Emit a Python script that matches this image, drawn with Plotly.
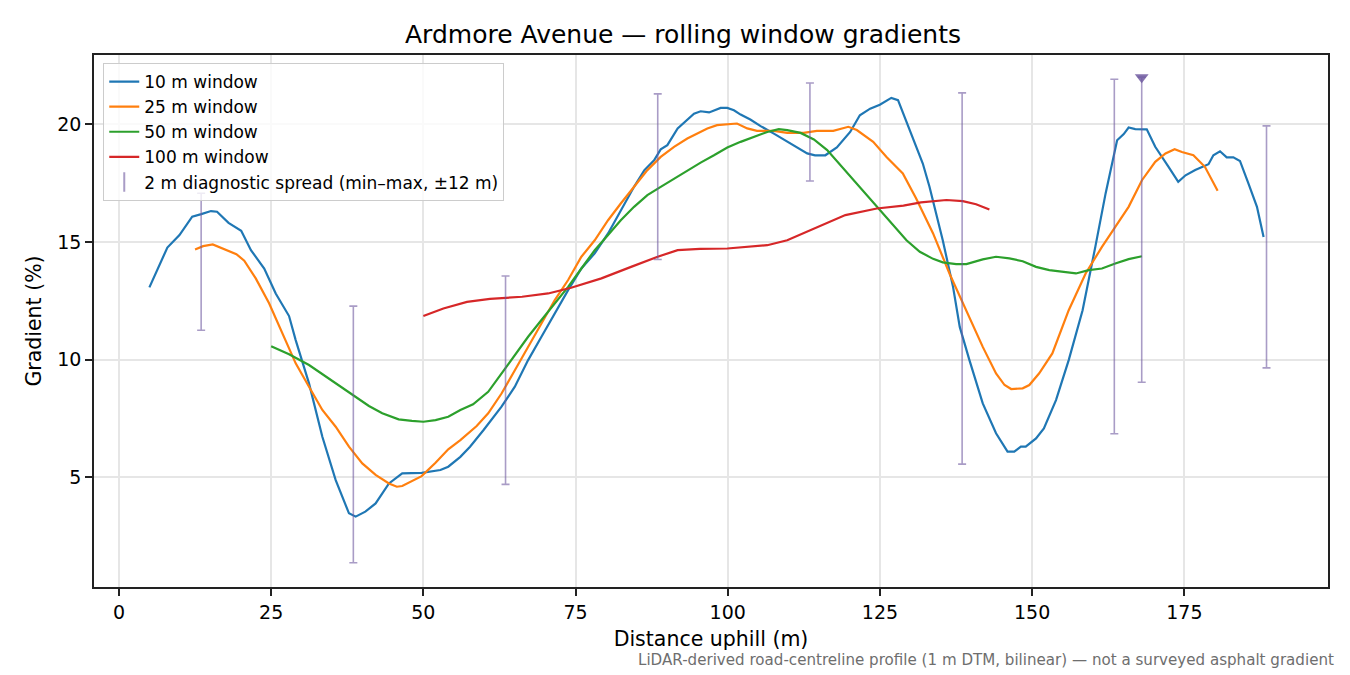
"""Ardmore Avenue: rolling window gradients along the road centreline.

Four moving-window gradient profiles plus the 2 m diagnostic min-max spread.
"""
import plotly.graph_objects as go

# 10 m window
dist_10 = [5.0, 7.95, 9.94, 12.03, 13.52, 15.11, 16.11, 18.0, 20.08, 21.68, 23.86, 25.75,
           27.94, 29.03, 31.22, 33.41, 35.6, 37.78, 38.88, 40.47, 42.16, 44.35, 46.53,
           49.72, 52.8, 54.09, 56.08, 57.67, 59.86, 62.84, 65.03, 67.21, 69.4, 71.59,
           73.78, 75.96, 78.15, 80.34, 82.43, 84.61, 86.31, 87.9, 88.99, 90.08, 91.77,
           93.36, 94.46, 95.55, 96.94, 98.83, 99.93, 101.02, 102.11, 103.71, 105.4,
           107.58, 109.77, 111.36, 113.05, 114.34, 116.03, 117.92, 120.11, 121.7,
           123.39, 124.98, 126.87, 127.97, 129.86, 132.04, 133.14, 135.32, 137.01,
           138.11, 139.7, 141.89, 144.07, 145.96, 147.06, 148.15, 148.95, 150.64,
           151.93, 153.92, 156.01, 158.29, 160.38, 162.07, 163.96, 165.05, 165.85,
           166.94, 168.83, 170.22, 172.41, 174.0, 175.2, 176.79, 178.97, 179.77,
           180.86, 181.96, 183.05, 184.14, 185.54, 186.93, 188.02]
grad_10 = [13.07, 14.76, 15.29, 16.07, 16.18, 16.31, 16.28, 15.81, 15.47, 14.65, 13.87, 12.81,
           11.85, 10.83, 8.99, 6.72, 4.88, 3.47, 3.33, 3.54, 3.89, 4.74, 5.17,
           5.19, 5.31, 5.45, 5.87, 6.3, 7.0, 8.0, 8.85, 9.98, 10.97, 11.96,
           12.95, 13.87, 14.51, 15.36, 16.35, 17.34, 18.05, 18.47, 18.93, 19.11, 19.82,
           20.17, 20.45, 20.55, 20.5, 20.69, 20.69, 20.59, 20.41, 20.2, 19.92,
           19.6, 19.25, 19.01, 18.76, 18.68, 18.68, 19.01, 19.67, 20.38,
           20.66, 20.83, 21.12, 21.02, 19.75, 18.33, 17.34, 15.07, 13.09,
           11.39, 9.98, 8.14, 6.87, 6.09, 6.09, 6.3, 6.3, 6.65,
           7.08, 8.28, 9.98, 12.1, 14.79, 17.06, 19.32, 19.58, 19.86,
           19.79, 19.78, 19.04, 18.19, 17.55, 17.83, 18.05, 18.3, 18.68,
           18.85, 18.59, 18.59, 18.44, 17.48, 16.49, 15.21]

# 25 m window
dist_25 = [12.5, 13.82, 15.41, 17.6, 19.29, 20.58, 22.47, 24.66, 26.85, 29.03, 31.22, 33.41,
           35.6, 37.78, 39.97, 42.16, 44.35, 45.64, 46.53, 48.12, 49.72, 52.0, 54.09,
           56.08, 58.76, 60.65, 62.84, 65.03, 67.21, 69.4, 71.59, 73.78, 75.96, 78.15,
           80.34, 82.43, 84.61, 86.8, 88.99, 91.18, 93.36, 95.55, 96.65, 98.24, 99.93,
           101.52, 103.21, 104.8, 107.58, 109.77, 112.46, 114.64, 117.33, 119.81, 121.2,
           123.89, 126.08, 128.76, 130.95, 133.73, 136.42, 139.2, 141.89, 144.07, 145.47,
           146.56, 148.45, 149.54, 151.13, 153.32, 156.01, 158.79, 161.47, 163.66,
           165.85, 168.04, 170.22, 171.91, 173.41, 174.6, 176.49, 178.38, 180.47]
grad_25 = [14.68, 14.82, 14.89, 14.65, 14.48, 14.2, 13.45, 12.39, 11.11, 9.84, 8.85, 7.86,
           7.15, 6.3, 5.59, 5.1, 4.74, 4.6, 4.63, 4.84, 5.05, 5.62, 6.19,
           6.58, 7.18, 7.72, 8.56, 9.55, 10.54, 11.54, 12.53, 13.38, 14.37, 15.07,
           15.92, 16.63, 17.34, 18.05, 18.61, 19.04, 19.39, 19.67, 19.82, 19.96, 20.0,
           20.03, 19.82, 19.72, 19.72, 19.63, 19.63, 19.72, 19.72, 19.89, 19.75,
           19.25, 18.61, 17.91, 16.84, 15.36, 13.66, 12.1, 10.54, 9.41, 8.92,
           8.75, 8.78, 8.92, 9.41, 10.26, 12.1, 13.66, 14.79, 15.64,
           16.49, 17.62, 18.4, 18.76, 18.94, 18.82, 18.68, 18.19, 17.17]

# 50 m window
dist_50 = [25.0, 27.94, 31.22, 34.5, 37.78, 41.06, 43.25, 45.94, 48.12, 50.01, 52.0, 54.09,
           56.08, 58.17, 60.65, 62.84, 65.03, 67.21, 69.4, 71.59, 73.78, 75.96, 78.15,
           80.34, 82.43, 84.61, 86.8, 88.99, 91.18, 93.36, 95.55, 97.74, 99.93, 102.11,
           104.3, 106.49, 108.38, 109.77, 111.96, 114.15, 116.33, 118.52, 120.71, 122.8,
           124.98, 127.17, 129.36, 131.55, 133.73, 135.32, 137.51, 139.2, 141.89, 144.07,
           146.26, 148.45, 150.64, 152.82, 155.01, 157.2, 159.29, 161.47, 163.66,
           165.85, 168.04]
grad_50 = [10.57, 10.23, 9.77, 9.2, 8.63, 8.03, 7.72, 7.46, 7.4, 7.36, 7.43, 7.57,
           7.86, 8.1, 8.63, 9.41, 10.19, 10.97, 11.68, 12.39, 13.09, 13.87, 14.65,
           15.29, 15.92, 16.49, 16.99, 17.34, 17.69, 18.05, 18.37, 18.68, 19.01, 19.25,
           19.46, 19.67, 19.79, 19.75, 19.63, 19.35, 18.9, 18.26, 17.62, 16.99,
           16.35, 15.71, 15.07, 14.58, 14.28, 14.13, 14.06, 14.06, 14.26, 14.37,
           14.3, 14.18, 13.94, 13.8, 13.73, 13.66, 13.8, 13.87, 14.08,
           14.27, 14.39]

# 100 m window
dist_100 = [50.0, 53.29, 57.17, 60.95, 66.22, 70.5, 74.27, 79.25, 84.12, 88.49, 91.77, 95.45,
            99.93, 106.49, 109.77, 113.05, 116.33, 119.32, 124.49, 128.86, 131.74, 135.92,
            138.61, 140.79, 142.98]
grad_100 = [11.85, 12.17, 12.45, 12.58, 12.67, 12.81, 13.05, 13.45, 13.94, 14.37, 14.65, 14.7,
            14.72, 14.86, 15.07, 15.43, 15.78, 16.14, 16.42, 16.54, 16.68, 16.78,
            16.73, 16.6, 16.38]

# 2 m diagnostic spread (min-max within +-12 m)
spread_x = [13.5, 38.5, 63.5, 88.5, 113.5, 138.5, 163.5, 168.0, 188.5]
spread_lo = [11.25, 1.37, 4.7, 14.25, 17.59, 5.56, 6.85, 9.04, 9.65]
spread_hi = [17.07, 12.27, 13.55, 21.29, 21.75, 21.33, 21.91, 22.0, 19.93]

# spread clipped at the top of the axis
clip_x = [168.0]
clip_y = [22.0]

series = [
    ("10 m window", dist_10, grad_10, "#1f77b4"),
    ("25 m window", dist_25, grad_25, "#ff7f0e"),
    ("50 m window", dist_50, grad_50, "#2ca02c"),
    ("100 m window", dist_100, grad_100, "#d62728"),
]

FONT = "DejaVu Sans"
AXIS = "#222222"
GRID = "#e6e6e6"
SPREAD = "rgba(112,90,160,0.6)"
PAGE_PAD = 8  # browser body margin around the plot div

fig = go.Figure()
for name, xs, ys, col in series:
    fig.add_trace(go.Scatter(x=xs, y=ys, mode="lines", name=name,
                             line=dict(color=col, width=2.2)))

fig.add_trace(go.Scatter(
    x=spread_x, y=spread_hi, mode="markers", showlegend=False,
    marker=dict(size=1, opacity=0),
    error_y=dict(type="data", symmetric=False,
                 array=[0] * len(spread_x),
                 arrayminus=[h - l for h, l in zip(spread_hi, spread_lo)],
                 color=SPREAD, thickness=1.6, width=4),
))
# legend entry only
fig.add_trace(go.Scatter(
    x=[None], y=[None], mode="markers",
    name="2 m diagnostic spread (min–max, ±12 m)",
    marker=dict(symbol="line-ns", size=14, color=SPREAD,
                line=dict(color=SPREAD, width=2)),
))
fig.add_trace(go.Scatter(
    x=clip_x, y=clip_y, mode="markers", showlegend=False,
    marker=dict(symbol="triangle-down", size=12, color="rgba(112,90,160,0.85)"),
))

axis_common = dict(
    showline=True, linecolor=AXIS, linewidth=1.6, mirror=True,
    ticks="outside", ticklen=7, tickwidth=1.6, tickcolor=AXIS,
    showgrid=True, gridcolor=GRID, gridwidth=1.5, zeroline=False,
    tickfont=dict(size=19, color="#000"),
)

fig.update_layout(
    width=1350, height=675,
    margin=dict(l=94 - PAGE_PAD, r=22 + PAGE_PAD, t=55 - PAGE_PAD, b=88 + PAGE_PAD),
    paper_bgcolor="white", plot_bgcolor="white",
    font=dict(family=FONT, color="#000"),
    title=dict(text="Ardmore Avenue — rolling window gradients",
               x=0.5, xanchor="center", y=1 - (34 - PAGE_PAD) / 675, yanchor="middle",
               font=dict(size=25)),
    xaxis=dict(range=[-4.1, 198.6], tickvals=[0, 25, 50, 75, 100, 125, 150, 175],
               title=dict(text="Distance uphill (m)", font=dict(size=20.5), standoff=10),
               **axis_common),
    yaxis=dict(range=[0.34, 22.94], tickvals=[5, 10, 15, 20],
               title=dict(text="Gradient (%)", font=dict(size=20.5), standoff=10),
               **axis_common),
    legend=dict(x=0.0075, y=0.985, xanchor="left", yanchor="top",
                bgcolor="rgba(255,255,255,0.8)", bordercolor="#cccccc", borderwidth=1,
                font=dict(size=17)),
    showlegend=True,
)

fig.add_annotation(
    text="LiDAR-derived road-centreline profile (1 m DTM, bilinear) — not a surveyed asphalt gradient",
    xref="paper", yref="paper", x=1.0065, y=-0.137, xanchor="right", yanchor="middle",
    showarrow=False, font=dict(size=15.1, color="#6e6e6e"),
)

fig.write_html("out.html")
